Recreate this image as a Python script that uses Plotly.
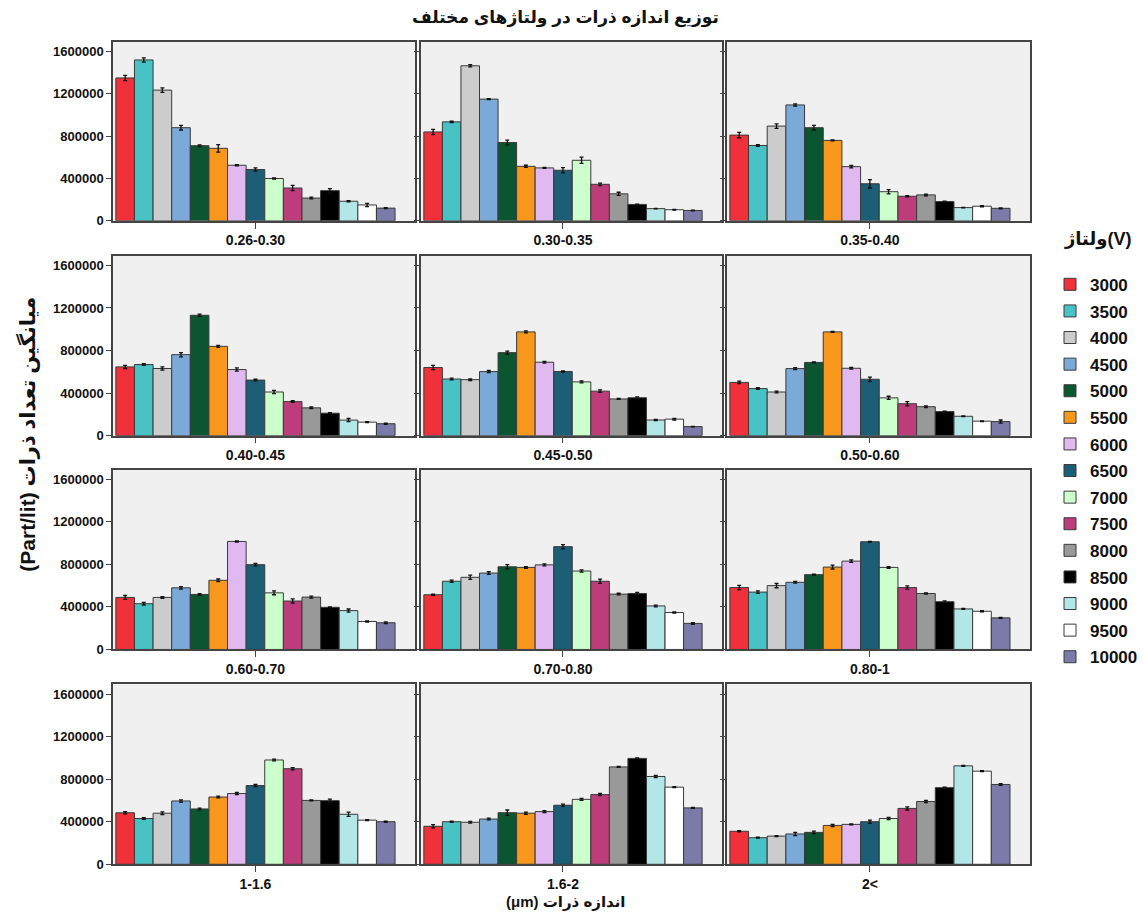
import plotly.graph_objects as go

W, H = 1145, 922      # target picture size
FIG_H = 914           # figure height on the page
Y_FIX = 1.008         # small vertical correction measured from renders

title_text = "توزیع اندازه ذرات در ولتاژهای مختلف"
y_title = "(Part/lit) میانگین تعداد ذرات"
x_title = "(μm) اندازه ذرات"
legend_title = "ولتاژ(V)"

voltages = ["3000", "3500", "4000", "4500", "5000", "5500", "6000", "6500",
            "7000", "7500", "8000", "8500", "9000", "9500", "10000"]
colors = ["#f0303a", "#48c2c5", "#cccccc", "#7baad8", "#0b5630", "#f7981d",
          "#dfb9f0", "#1b5e75", "#ccffcc", "#bc3d7a", "#999999", "#000000",
          "#b3e6e6", "#ffffff", "#7b7aa8"]

size_ranges = ["0.26-0.30", "0.30-0.35", "0.35-0.40",
               "0.40-0.45", "0.45-0.50", "0.50-0.60",
               "0.60-0.70", "0.70-0.80", "0.80-1",
               "1-1.6", "1.6-2", "2<"]

# mean counts per voltage (3000 ... 10000) for each size range
v_026_030 = [1350000, 1520000, 1235000, 880000, 710000, 685000, 525000, 485000, 400000, 310000, 215000, 285000, 185000, 150000, 120000]
v_030_035 = [840000, 935000, 1465000, 1150000, 740000, 515000, 500000, 478000, 572000, 345000, 255000, 155000, 115000, 105000, 98000]
v_035_040 = [810000, 712000, 895000, 1095000, 880000, 760000, 512000, 350000, 275000, 232000, 245000, 182000, 125000, 138000, 118000]
v_040_045 = [646000, 668000, 631000, 761000, 1131000, 839000, 621000, 522000, 410000, 320000, 261000, 211000, 146000, 127000, 112000]
v_045_050 = [640000, 532000, 526000, 602000, 780000, 975000, 690000, 603000, 505000, 418000, 345000, 356000, 147000, 155000, 85000]
v_050_060 = [500000, 442000, 410000, 630000, 688000, 975000, 633000, 530000, 355000, 300000, 272000, 226000, 182000, 136000, 132000]
v_060_070 = [489000, 430000, 489000, 579000, 517000, 650000, 1015000, 797000, 532000, 455000, 492000, 396000, 365000, 263000, 251000]
v_070_080 = [514000, 641000, 678000, 718000, 777000, 771000, 795000, 966000, 737000, 641000, 520000, 526000, 409000, 347000, 245000]
v_080_100 = [582000, 539000, 600000, 631000, 703000, 774000, 830000, 1012000, 771000, 582000, 526000, 449000, 381000, 359000, 297000]
v_100_160 = [484000, 430000, 480000, 595000, 520000, 632000, 665000, 740000, 980000, 898000, 600000, 598000, 470000, 415000, 400000]
v_160_200 = [357000, 400000, 395000, 425000, 485000, 480000, 495000, 555000, 610000, 655000, 915000, 995000, 825000, 725000, 530000]
v_200_up = [310000, 250000, 265000, 285000, 300000, 365000, 375000, 400000, 430000, 525000, 590000, 720000, 925000, 875000, 750000]

# standard error (half-height of error bars)
e_026_030 = [25000, 20000, 22000, 22000, 8000, 35000, 6000, 15000, 6000, 25000, 8000, 20000, 6000, 15000, 5000]
e_030_035 = [25000, 6000, 10000, 5000, 22000, 10000, 5000, 25000, 30000, 12000, 15000, 3000, 3000, 3000, 3000]
e_035_040 = [25000, 8000, 22000, 10000, 22000, 5000, 12000, 40000, 20000, 5000, 8000, 3000, 3000, 5000, 5000]
e_040_045 = [15000, 8000, 15000, 20000, 10000, 10000, 15000, 8000, 15000, 8000, 8000, 5000, 15000, 5000, 5000]
e_045_050 = [20000, 8000, 8000, 10000, 15000, 10000, 8000, 5000, 10000, 12000, 5000, 8000, 5000, 8000, 3000]
e_050_060 = [12000, 8000, 8000, 10000, 5000, 5000, 8000, 20000, 15000, 20000, 8000, 5000, 3000, 3000, 15000]
e_060_070 = [18000, 12000, 8000, 12000, 8000, 12000, 5000, 12000, 18000, 20000, 10000, 5000, 15000, 5000, 8000]
e_070_080 = [5000, 10000, 20000, 12000, 20000, 8000, 10000, 20000, 10000, 20000, 8000, 10000, 8000, 5000, 8000]
e_080_100 = [20000, 12000, 20000, 8000, 5000, 18000, 12000, 3000, 8000, 15000, 5000, 8000, 5000, 5000, 5000]
e_100_160 = [10000, 8000, 12000, 10000, 8000, 8000, 10000, 10000, 8000, 10000, 5000, 15000, 20000, 5000, 5000]
e_160_200 = [15000, 5000, 8000, 8000, 25000, 10000, 10000, 10000, 10000, 10000, 5000, 5000, 10000, 5000, 5000]
e_200_up = [5000, 5000, 5000, 15000, 12000, 10000, 5000, 15000, 10000, 15000, 10000, 5000, 5000, 5000, 8000]

panel_values = [v_026_030, v_030_035, v_035_040, v_040_045, v_045_050, v_050_060,
                v_060_070, v_070_080, v_080_100, v_100_160, v_160_200, v_200_up]
panel_errors = [e_026_030, e_030_035, e_035_040, e_040_045, e_045_050, e_050_060,
                e_060_070, e_070_080, e_080_100, e_100_160, e_160_200, e_200_up]

y_tick_vals = [0, 400000, 800000, 1200000, 1600000]
y_tick_text = ["0", "400000", "800000", "1200000", "1600000"]

FONT = "Arial, Liberation Sans, DejaVu Sans, sans-serif"

# panel pixel boxes
col_px = [(113, 415), (421, 722), (727, 1030)]
row_px = [(42, 221), (256, 436), (470, 650), (685, 865)]


def py(ypix):
    return 1 - (ypix * Y_FIX) / FIG_H


fig = go.Figure()
layout = {}
for p, cat in enumerate(size_ranges):
    r, c = divmod(p, 3)
    idx = p + 1
    xa = "x" if idx == 1 else f"x{idx}"
    ya = "y" if idx == 1 else f"y{idx}"
    for k, v in enumerate(voltages):
        fig.add_trace(go.Bar(
            x=[cat], y=[panel_values[p][k]], name=v,
            marker=dict(color=colors[k], line=dict(color="#3a3a3a", width=1)),
            error_y=dict(type="data", array=[panel_errors[p][k]], color="#111111",
                         thickness=1.3, width=2),
            xaxis=xa, yaxis=ya, legendgroup=v, showlegend=(p == 0),
            offsetgroup=v,
        ))
    x0, x1 = col_px[c]
    y0, y1 = row_px[r]
    layout[f"xaxis{'' if idx == 1 else idx}"] = dict(
        domain=[x0 / W, x1 / W], anchor=ya, type="category",
        range=[-0.5, 0.56], showline=True, linecolor="#444444", linewidth=1.5,
        mirror=True, ticks="outside", ticklen=6, tickcolor="#444444",
        tickfont=dict(family=FONT, size=14, color="#111111", weight="bold"),
        showgrid=False, zeroline=False, fixedrange=True,
    )
    layout[f"yaxis{'' if idx == 1 else idx}"] = dict(
        domain=[py(y1), py(y0)], anchor=xa,
        range=[0, 1690000], tickvals=y_tick_vals, ticktext=y_tick_text,
        showticklabels=(c == 0), showline=True, linecolor="#444444", linewidth=1.5,
        mirror=True, ticks="outside", ticklen=5, tickcolor="#444444",
        tickfont=dict(family=FONT, size=13, color="#111111", weight="bold"),
        showgrid=False, zeroline=False, fixedrange=True,
    )

fig.update_layout(**layout)
fig.update_layout(
    width=W, height=FIG_H, margin=dict(l=0, r=0, t=0, b=0),
    paper_bgcolor="white", plot_bgcolor="#f0f0f0",
    barmode="group", bargap=0.02, bargroupgap=0,
    font=dict(family=FONT, color="#111111"),
    showlegend=True,
    legend=dict(
        x=1050 / W, y=py(267), xanchor="left", yanchor="top",
        font=dict(family=FONT, size=17, weight="bold", color="#111111"),
        tracegroupgap=1.5, bgcolor="rgba(0,0,0,0)",
        traceorder="grouped",
    ),
    annotations=[
        dict(text=title_text, x=565 / W, y=py(18), xref="paper", yref="paper",
             xanchor="center", yanchor="middle",
             showarrow=False, font=dict(family=FONT, size=17, weight="bold")),
        dict(text=y_title, x=28 / W, y=py(435), xref="paper", yref="paper",
             xanchor="center", yanchor="middle",
             textangle=-90, showarrow=False,
             font=dict(family=FONT, size=21, weight="bold")),
        dict(text=x_title, x=565 / W, y=py(903), xref="paper", yref="paper",
             xanchor="center", yanchor="middle",
             showarrow=False, font=dict(family=FONT, size=15, weight="bold")),
        dict(text=legend_title, x=1097 / W, y=py(240), xref="paper", yref="paper",
             xanchor="center", yanchor="middle",
             showarrow=False, font=dict(family=FONT, size=18, weight="bold")),
    ],
)

fig.write_html(
    "out.html",
    config={"displayModeBar": False},
    post_script=("document.documentElement.style.margin='0';"
                 "document.documentElement.style.overflow='hidden';"
                 "document.body.style.margin='0';document.body.style.padding='0';"
                 "document.body.style.overflow='hidden';"),
)
